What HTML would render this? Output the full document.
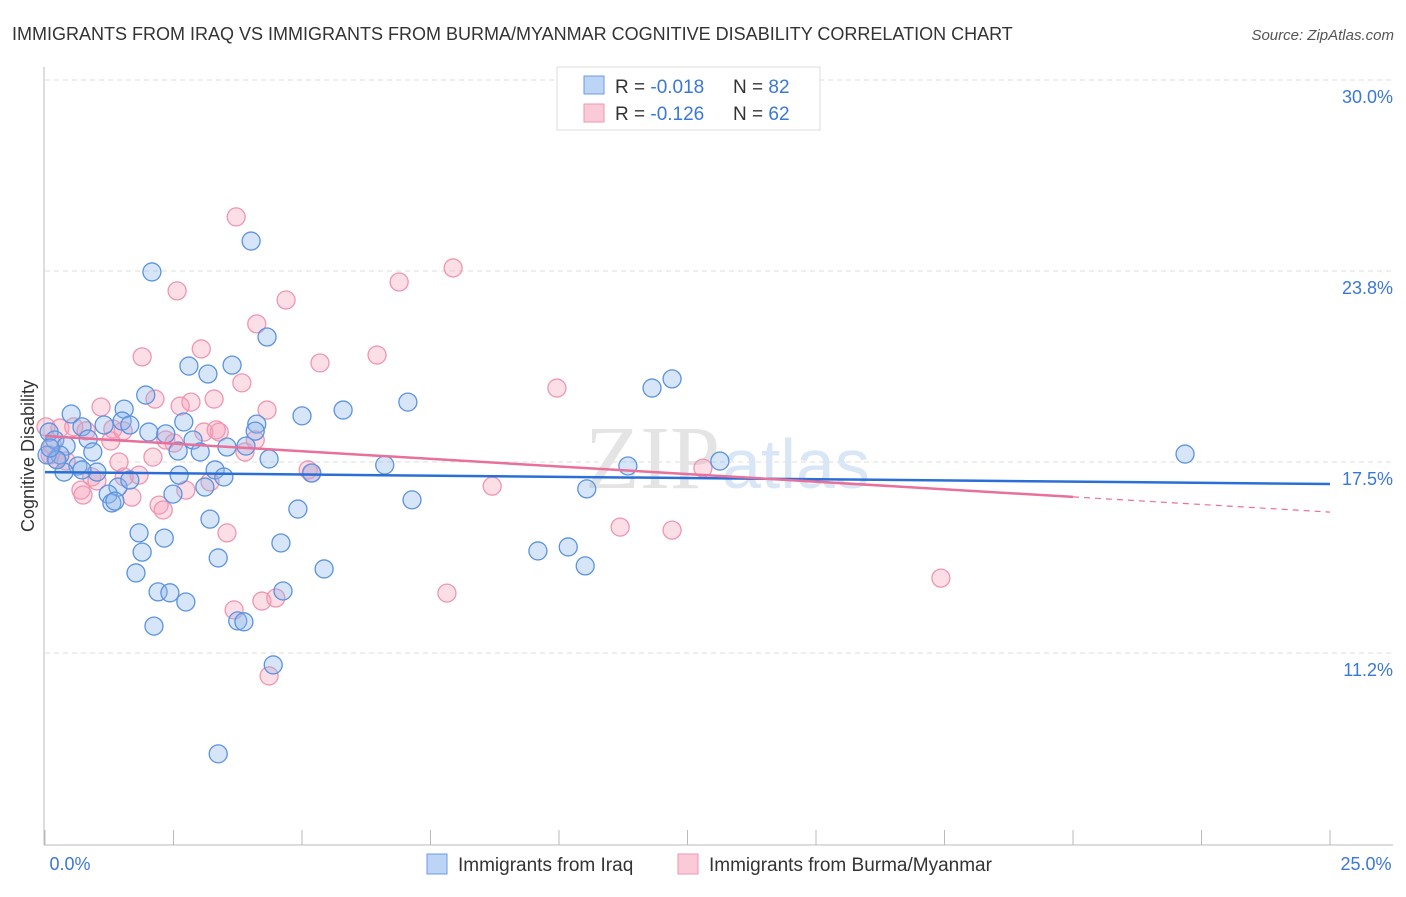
<!DOCTYPE html>
<html><head><meta charset="utf-8"><style>
body{margin:0;background:#fff;font-family:"Liberation Sans",sans-serif}
</style></head><body>
<svg width="1406" height="892" viewBox="0 0 1406 892" xmlns="http://www.w3.org/2000/svg">
<text x="12" y="40" font-size="18" fill="#333">IMMIGRANTS FROM IRAQ VS IMMIGRANTS FROM BURMA/MYANMAR COGNITIVE DISABILITY CORRELATION CHART</text>
<text x="1394" y="40" font-size="15" fill="#555" font-style="italic" text-anchor="end">Source: ZipAtlas.com</text>
<g id="grid"></g>
<text x="720" y="488" font-size="90" font-family="Liberation Serif,serif" fill="#e4e4e4" text-anchor="end">ZIP</text>
<text x="722" y="488" font-size="70" fill="#d8e6f5">atlas</text>
<line x1="44" y1="67" x2="44" y2="845" stroke="#bbb"/>
<line x1="44" y1="845" x2="1393" y2="845" stroke="#bbb"/>
<g id="xticks"></g>
<g id="ylabels"></g>
<text x="70" y="870" font-size="18" fill="#3a78d8" text-anchor="middle">0.0%</text>
<text x="1366" y="870" font-size="18" fill="#3a78d8" text-anchor="middle">25.0%</text>
<text transform="translate(34,456) rotate(-90)" font-size="18" fill="#333" text-anchor="middle">Cognitive Disability</text>
<g id="pinkpts"></g>
<g id="bluepts"></g>
<g id="trends"></g>
<g>
<rect x="557" y="67" width="263" height="63" fill="#fff" stroke="#ddd"/>
<rect x="584" y="76" width="20" height="18" fill="#bcd4f5" stroke="#6b9be0"/>
<rect x="584" y="104" width="20" height="18" fill="#fbcad8" stroke="#ef96b0"/>
<text x="615" y="93" font-size="19" fill="#333">R = <tspan fill="#3a78d8">-0.018</tspan><tspan x="733">N = </tspan><tspan fill="#3a78d8">82</tspan></text>
<text x="615" y="120" font-size="19" fill="#333">R = <tspan fill="#3a78d8"> -0.126</tspan><tspan x="733">N = </tspan><tspan fill="#3a78d8">62</tspan></text>
</g>
<rect x="427" y="854" width="20" height="20" fill="#bcd4f5" stroke="#6b9be0"/>
<text x="458" y="871" font-size="19" fill="#333">Immigrants from Iraq</text>
<rect x="678" y="854" width="20" height="20" fill="#fbcad8" stroke="#ef96b0"/>
<text x="709" y="871" font-size="19" fill="#333">Immigrants from Burma/Myanmar</text>
</svg>
<script>
const yTicks=[30,23.75,17.5,11.25];
const yTickLabels=["30.0%","23.8%","17.5%","11.2%"];
const xTicks=[0,2.5,5,7.5,10,12.5,15,17.5,20,22.5,25];
const iraqX=[2.08,4.01,4.32,2.80,3.64,3.17,1.96,12.20,11.81,7.06,5.80,5.00,1.54,0.51,1.50,2.70,4.12,1.15,0.72,2.02,2.35,4.09,1.65,2.88,3.91,3.54,2.59,3.02,0.08,0.19,0.41,0.84,0.93,0.29,0.04,4.36,6.61,11.34,13.13,22.18,0.64,0.37,1.01,0.72,3.31,2.61,3.48,5.19,1.42,1.65,3.11,1.23,2.49,7.14,10.54,1.30,4.92,3.21,1.83,2.32,4.59,1.89,9.59,10.18,3.37,10.51,5.43,1.77,2.20,2.43,4.63,2.74,2.12,3.75,3.87,4.44,3.37,0.23,0.10,1.36];
const iraqY=[23.72,24.73,21.59,20.64,20.67,20.38,19.69,20.22,19.92,19.46,19.20,19.01,19.23,19.07,18.84,18.81,18.74,18.71,18.65,18.48,18.42,18.51,18.71,18.22,18.02,17.99,17.86,17.83,18.48,18.22,18.02,18.25,17.83,17.73,17.73,17.60,17.40,17.37,17.53,17.76,17.37,17.17,17.17,17.24,17.24,17.07,17.01,17.14,16.68,16.91,16.68,16.45,16.45,16.26,16.62,16.16,15.96,15.63,15.18,15.01,14.85,14.55,14.59,14.72,14.36,14.10,14.00,13.87,13.25,13.22,13.28,12.92,12.13,12.30,12.27,10.86,7.95,17.57,17.96,16.22];
const burmaX=[3.72,7.94,6.89,2.57,4.69,4.12,3.04,1.89,6.46,5.35,3.83,9.96,2.14,3.29,2.84,2.63,1.09,4.32,1.32,3.39,3.09,0.02,0.29,0.56,0.80,1.52,2.35,1.28,2.10,3.89,1.44,1.83,0.91,1.54,5.12,5.18,3.21,2.74,8.70,0.70,0.74,1.69,2.22,2.30,12.80,11.19,12.20,3.54,17.43,7.82,3.68,4.22,4.49,4.36,0.10,0.14,0.21,1.01,0.41,4.09,3.33,2.51];
const burmaY=[25.52,23.85,23.39,23.10,22.80,22.02,21.20,20.94,21.00,20.74,20.09,19.92,19.56,19.56,19.46,19.33,19.30,19.20,18.58,18.48,18.48,18.65,18.61,18.65,18.52,18.52,18.22,18.19,17.66,17.83,17.50,17.07,17.01,17.01,17.24,17.14,16.85,16.58,16.71,16.58,16.42,16.35,16.09,15.93,17.30,15.37,15.27,15.18,13.70,13.21,12.66,12.95,13.05,10.50,17.73,18.06,17.60,16.88,17.53,18.22,18.55,18.12];
const iraqTrend=[17.17,16.78];
const burmaTrend=[18.35,15.86];
const burmaSolidEnd=20;
const NS="http://www.w3.org/2000/svg";
const sx=v=>45+v*51.4, sy=v=>80+(30-v)*30.56;
function mk(t,a,p){const e=document.createElementNS(NS,t);for(const k in a)e.setAttribute(k,a[k]);p.appendChild(e);return e;}
const grid=document.getElementById('grid');
yTicks.forEach((t,i)=>{
 const l=mk('line',{x1:45,x2:1393,y1:sy(t),y2:sy(t),stroke:'#ddd','stroke-dasharray':'5,4'},grid);
 
 
 const tx=mk('text',{x:1393,y:sy(t)+23,'font-size':18,fill:'#3a78d8','text-anchor':'end'},document.getElementById('ylabels'));
 tx.textContent=yTickLabels[i];
 
 
});
xTicks.forEach(t=>{
 const l=mk('line',{x1:sx(t),x2:sx(t),y1:830,y2:845,stroke:'#bbb'},document.getElementById('xticks'));
 
 
});
const pp=document.getElementById('pinkpts');
burmaX.forEach((x,i)=>{
 const c=mk('circle',{cx:sx(x),cy:sy(burmaY[i]),r:9,fill:'rgba(245,160,185,0.35)',stroke:'#ef96b0','stroke-width':1.3},pp);
 
 
});
const bp=document.getElementById('bluepts');
iraqX.forEach((x,i)=>{
 const c=mk('circle',{cx:sx(x),cy:sy(iraqY[i]),r:9,fill:'rgba(140,180,235,0.35)',stroke:'#5b93e0','stroke-width':1.3},bp);
 
 
});
const tr=document.getElementById('trends');
const b=mk('line',{x1:sx(0),y1:sy(iraqTrend[0]),x2:sx(25),y2:sy(iraqTrend[1]),stroke:'#2a6fd6','stroke-width':2.5},tr);


const pm=burmaTrend[0]+(burmaTrend[1]-burmaTrend[0])*burmaSolidEnd/25;
const p1=mk('line',{x1:sx(0),y1:sy(burmaTrend[0]),x2:sx(burmaSolidEnd),y2:sy(pm),stroke:'#e8709a','stroke-width':2.5},tr);


const p2=mk('line',{x1:sx(burmaSolidEnd),y1:sy(pm),x2:sx(25),y2:sy(burmaTrend[1]),stroke:'#e8709a','stroke-width':1.2,'stroke-dasharray':'6,5'},tr);


</script>
</body></html>
